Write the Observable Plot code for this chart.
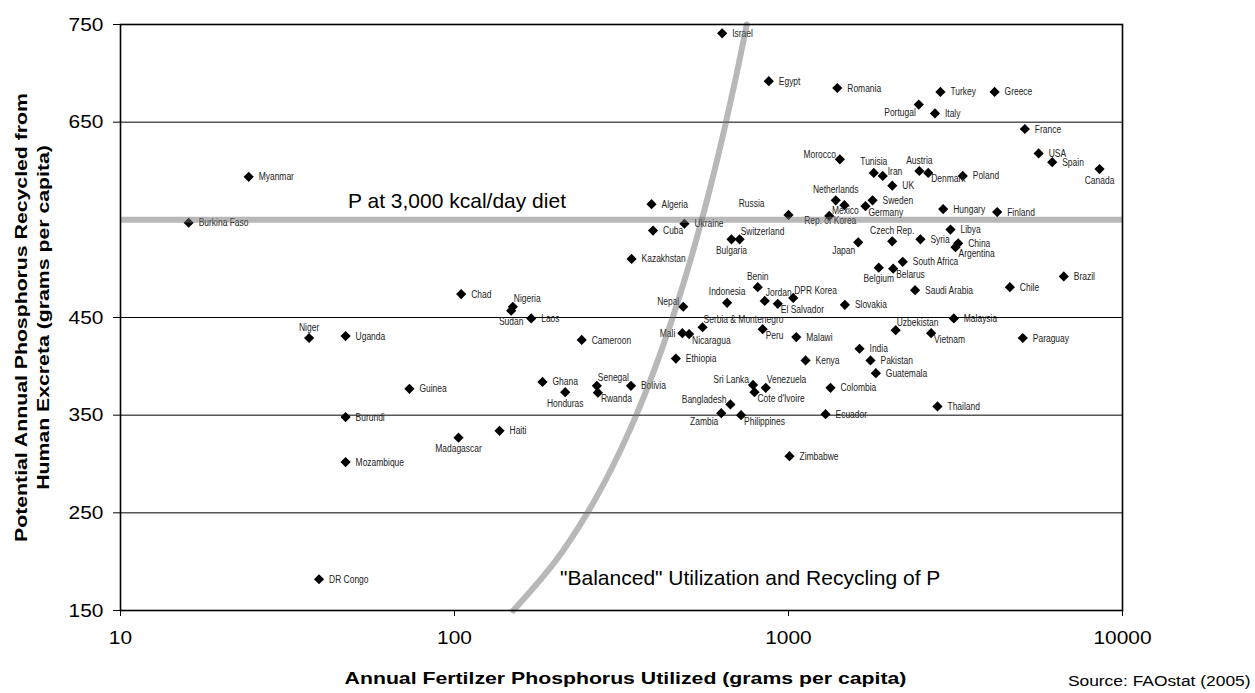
<!DOCTYPE html>
<html>
<head>
<meta charset="utf-8">
<script src="https://cdn.jsdelivr.net/npm/d3@7"></script>
<script src="https://cdn.jsdelivr.net/npm/@observablehq/plot@0.6"></script>
<style>
  html, body { margin: 0; padding: 0; background: #fff; }
  #chart { width: 1255px; height: 693px; }
  svg { font-family: "Liberation Sans", Arial, sans-serif; }
</style>
</head>
<body>
<div id="chart"></div>
<script>
const countries = ["Israel","Egypt","Romania","Turkey","Greece","Portugal","Italy","France","Morocco","USA","Spain","Canada","Tunisia","Iran","UK","Austria","Denmark","Poland","Netherlands","Mexico","Germany","Sweden","Hungary","Finland","Myanmar","Algeria","Russia","Burkina Faso","Ukraine","Rep. of Korea","Cuba","Switzerland","Bulgaria","Japan","Czech Rep.","Syria","Libya","China","Argentina","Kazakhstan","South Africa","Belgium","Belarus","Brazil","Saudi Arabia","Chile","Benin","Indonesia","Jordan","El Salvador","DPR Korea","Slovakia","Nepal","Malaysia","Serbia & Montenegro","Mali","Nicaragua","Peru","Malawi","Uzbekistan","Vietnam","Paraguay","India","Ethiopia","Kenya","Pakistan","Guatemala","Sri Lanka","Venezuela","Cote d'Ivoire","Colombia","Bangladesh","Zambia","Philippines","Ecuador","Thailand","Zimbabwe","Chad","Nigeria","Sudan","Laos","Niger","Uganda","Cameroon","Guinea","Ghana","Honduras","Senegal","Rwanda","Bolivia","Burundi","Haiti","Madagascar","Mozambique","DR Congo"];

// Annual fertilizer P utilized (g per capita)
const fertilizerP = [633,873,1400,2850,4140,2455,2745,5100,1425,5610,6160,8535,1800,1915,2045,2465,2620,3325,1385,1470,1700,1785,2905,4215,24.2,389,1000,16,488,1324,393,714,675,1617,2044,2483,3055,3222,3162,339,2198,1863,2058,6671,2393,4600,809,655,849,929,1033,1475,484,3126,553,481,504,837,1055,2094,2673,5029,1632,460,1125,1760,1826,783,855,791,1336,670,629,721,1291,2793,1007,104.7,149.5,147.8,169.7,36.7,47.2,240.4,73.3,183.4,214.5,266.8,268.7,337.6,47.2,136.4,102.8,47.2,39.3];

// Potential annual P recycled from human excreta (g per capita)
const excretaP = [741,692,685,681,681,668,659,643,612,618,609,602,598,595,585,600,598,595,570,565,564,570,561,558,594,566,555,547,546,554,539,530,530,527,528,530,540,526,522,510,507,501,500,492,478,481,481,465,467,464,470,463,461,449,440,434,433,438,430,437,434,429,418,408,406,406,393,381,378,373.5,378,361,352,350,351,359,308,474,461,457,449,429,431,427,377,384,373.5,380,373,380,348,334,327,302,182];

// Label placement code per country
const labelPos = ["r","r","r","r","r","bl","r","r","tl","r","r","b","t","r2","r","t","br","r","t","bs","br","r","r","r","r","r","tl2","r","r","bs","r","tr","b","bl","t","r","r","r","br","r","r","b","br","r","r","r","t","t","tr","br","tr","r","tl","r","tr","l","br","br","r","tr","br","r","r","r","r","r","r","tl","tr","br","r","tl","bl","br","r","r","r","r","tr","b","r","t","r","r","r","r","b","tr","br","r","r","r","b","r","r"];

const xTicks = [10, 100, 1000, 10000];
const yTicks = [150, 250, 350, 450, 650, 750];
const gridY = [250, 350, 450, 650];
const dietP = [550];
const balancedX = [150, 200, 250, 300, 350, 400, 450, 500, 550, 600, 650, 700, 750];
const balancedY = [150, 200, 250, 300, 350, 400, 450, 500, 550, 600, 650, 700, 750];

const noteText = ["P at 3,000 kcal/day diet", "\"Balanced\" Utilization and Recycling of P"];
const noteX = [48, 207];
const noteY = [569, 183];

const data = countries.map((c, i) => ({country: c, x: fertilizerP[i], y: excretaP[i], pos: labelPos[i]}));
const balanced = balancedX.map((x, i) => ({x, y: balancedY[i]}));
const notes = noteText.map((t, i) => ({text: t, x: noteX[i], y: noteY[i]}));

const POS = {
  r:   {textAnchor: "start",  dx: 10, dy: 0},
  r2:  {textAnchor: "start",  dx: 5,  dy: -4},
  l:   {textAnchor: "end",    dx: -7, dy: 0},
  t:   {textAnchor: "middle", dx: 0,  dy: -11},
  b:   {textAnchor: "middle", dx: 0,  dy: 11},
  bs:  {textAnchor: "middle", dx: 1,  dy: 5},
  tr:  {textAnchor: "start",  dx: 1,  dy: -8},
  br:  {textAnchor: "start",  dx: 3,  dy: 6},
  tl:  {textAnchor: "end",    dx: -4, dy: -5},
  bl:  {textAnchor: "end",    dx: -3, dy: 8},
  tl2: {textAnchor: "end",    dx: -24, dy: -11}
};

const labelMarks = Object.entries(POS).map(([k, o]) =>
  Plot.text(data.filter(d => d.pos === k), {
    x: "x", y: "y", text: "country",
    textAnchor: o.textAnchor, dx: o.dx, dy: o.dy,
    fontSize: 11, fill: "#222", ariaDescription: "country labels"
  })
);

const chart = Plot.plot({
  width: 1255,
  height: 693,
  marginLeft: 120,
  marginRight: 133,
  marginTop: 24,
  marginBottom: 83,
  style: {background: "#fff", color: "#000", fontFamily: "'Liberation Sans', Arial, sans-serif"},
  x: {type: "log", domain: [10, 10000], range: [120, 1122]},
  y: {domain: [150, 750]},
  marks: [
    Plot.ruleY(gridY, {stroke: "#000", strokeWidth: 1}),
    Plot.dot(data, {x: "x", y: "y", symbol: "diamond2", r: 4.6, fill: "#000", stroke: "none"}),
    ...labelMarks,
    Plot.ruleY(dietP, {stroke: "url(#hatch)", strokeWidth: 6}),
    Plot.line(balanced, {x: "x", y: "y", stroke: "url(#hatch)", strokeWidth: 6, curve: "catmull-rom"}),
    Plot.frame({stroke: "#000", strokeWidth: 1.6}),
    Plot.axisY({ticks: yTicks, tickSize: 7, tickPadding: 10, fontSize: 19, label: null}),
    Plot.axisX({ticks: xTicks, tickFormat: d => String(d), tickSize: 6, tickPadding: 14, fontSize: 19, label: null}),
    Plot.text(notes, {x: "x", y: "y", text: "text", textAnchor: "start", fontSize: 21, fill: "#000"}),
    Plot.text(["Annual Fertilzer Phosphorus Utilized (grams per capita)"], {frameAnchor: "bottom", textAnchor: "middle", dx: 4, dy: 73, fontSize: 17, fontWeight: "bold", fill: "#000", ariaDescription: "stretch-title"}),
    Plot.text(["Potential Annual Phosphorus Recycled from\nHuman Excreta (grams per capita)"], {frameAnchor: "left", textAnchor: "middle", lineAnchor: "middle", dx: -90, rotate: -90, fontSize: 17, fontWeight: "bold", lineHeight: 1.3, fill: "#000", ariaDescription: "stretch-title"}),
    Plot.text(["Source: FAOstat (2005)"], {frameAnchor: "bottom-right", textAnchor: "end", lineAnchor: "middle", dx: 128, dy: 71, fontSize: 14.5, fill: "#000", ariaDescription: "stretch-source"})
  ]
});

// horizontal stretch/condense of text to mimic the reference typefaces
function scaleTexts(selector, sx) {
  chart.querySelectorAll(selector).forEach(t => {
    const tr = t.getAttribute("transform") || "";
    t.setAttribute("transform", tr + ` scale(${sx},1)`);
  });
}
scaleTexts('g[aria-description="country labels"] text', 0.77);
scaleTexts('g[aria-description="stretch-title"] text', 1.25);
scaleTexts('g[aria-description="stretch-source"] text', 1.2);
scaleTexts('g[aria-label="y-axis tick label"] text', 1.1);
scaleTexts('g[aria-label="x-axis tick label"] text', 1.1);

// stippled pattern for the reference lines
const ns = "http://www.w3.org/2000/svg";
const defs = document.createElementNS(ns, "defs");
const pat = document.createElementNS(ns, "pattern");
pat.setAttribute("id", "hatch");
pat.setAttribute("patternUnits", "userSpaceOnUse");
pat.setAttribute("width", "2");
pat.setAttribute("height", "2");
[[0, 0], [1, 1]].forEach(([px, py]) => {
  const r = document.createElementNS(ns, "rect");
  r.setAttribute("x", px); r.setAttribute("y", py);
  r.setAttribute("width", 1); r.setAttribute("height", 1);
  r.setAttribute("fill", "#707070");
  pat.appendChild(r);
});
defs.appendChild(pat);
chart.insertBefore(defs, chart.firstChild);

document.getElementById("chart").appendChild(chart);
</script>
</body>
</html>
